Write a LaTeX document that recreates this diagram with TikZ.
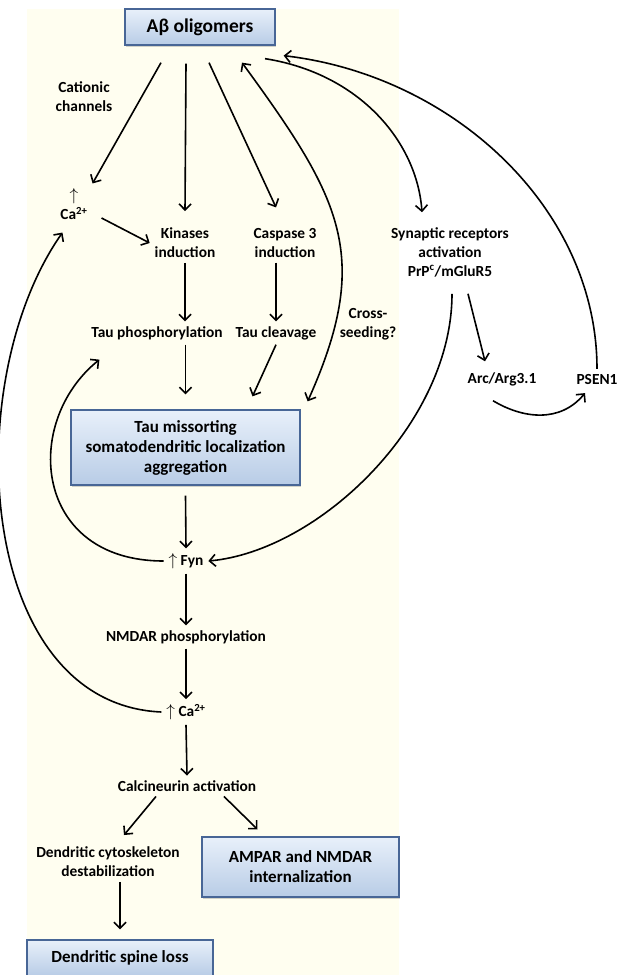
\documentclass[tikz,border=0pt]{standalone}
\usepackage{fontspec}
\setmainfont{Carlito}
\usetikzlibrary{positioning,arrows.meta,shadows}
\usepackage{xcolor}
\definecolor{cream}{RGB}{255,254,240}
\definecolor{boxedge}{RGB}{72,102,150}
\definecolor{boxtop}{RGB}{232,240,250}
\definecolor{boxbot}{RGB}{184,204,230}
\newcommand{\upar}{{\fontsize{18}{19}\selectfont$\uparrow$}}

\begin{document}
\begin{tikzpicture}[x=1pt, y=-1pt,
	lbl/.style={font=\fontsize{15.4}{19}\selectfont\bfseries, align=center, inner sep=1pt, outer sep=4pt},
	bluebox/.style={draw=boxedge, line width=1.3pt, top color=boxtop, bottom color=boxbot, font=\fontsize{17}{20}\selectfont\bfseries, align=center, inner sep=2pt, drop shadow={shadow xshift=1pt, shadow yshift=-1.5pt, opacity=0.35}},
	arr/.style={-{Straight Barb[length=6pt,width=12pt]}, line width=1.6pt}]
	\useasboundingbox (0,0) rectangle (618,975);
	\fill[cream] (27,9) rectangle (399,975);
	
	% Boxes
	\node[bluebox, minimum width=150pt, minimum height=36pt, font=\fontsize{19.5}{22}\selectfont\bfseries] (abeta) at (200,27) {Aβ oligomers};
	\node[bluebox, minimum width=229pt, minimum height=75pt] (taubox) at (185.5,447.5) {Tau missorting\\somatodendritic localization\\aggregation};
	\node[bluebox, minimum width=197pt, minimum height=60pt] (ampar) at (300.5,867) {AMPAR and NMDAR\\internalization};
	\node[bluebox, minimum width=186pt, minimum height=36pt] (spine) at (120,958) {Dendritic spine loss};
	
	% Text nodes
	\node[lbl] (cationic) at (84,97) {Cationic\\channels};
	\node[lbl] (catop) at (74,204) {\upar\\Ca\textsuperscript{2+}};
	\node[lbl] (kinases) at (185,243) {Kinases\\induction};
	\node[lbl] (caspase) at (285,243) {Caspase 3\\induction};
	\node[lbl] (taup) at (157,333) {Tau phosphorylation};
	\node[lbl] (tauc) at (276,333) {Tau cleavage};
	\node[lbl] (cross) at (368,324) {Cross-\\seeding?};
	\node[lbl] (synaptic) at (450,252) {Synaptic receptors\\activation\\PrP\textsuperscript{c}/mGluR5};
	\node[lbl] (arc) at (502,379) {Arc/Arg3.1};
	\node[lbl] (psen) at (597,379) {PSEN1};
	\node[lbl] (fyn) at (186,561) {\upar\ Fyn};
	\node[lbl] (nmdar) at (186,637) {NMDAR phosphorylation};
	\node[lbl] (calow) at (186,712) {\upar\ Ca\textsuperscript{2+}};
	\node[lbl] (calcin) at (187,786) {Calcineurin activation};
	\node[lbl] (cyto) at (108,862) {Dendritic cytoskeleton\\destabilization};
	
	% Arrows from the oligomers
	\draw[arr] ([xshift=-39pt,yshift=-17pt]abeta.south) -- (catop.north east);
	\draw[arr] ([xshift=-14pt,yshift=-18pt]abeta.south) -- ([yshift=12pt]kinases.north);
	\draw[arr] ([xshift=9pt,yshift=-17pt]abeta.south) -- ([xshift=-9pt,yshift=16pt]caspase.north);
	\draw[{Straight Barb[length=6pt,width=12pt]}-{Straight Barb[length=6pt,width=12pt]}, line width=1.6pt] ([xshift=42pt,yshift=-17pt]abeta.south) .. controls +(100,137) and +(65,-145) .. ([xshift=7pt,yshift=8pt]taubox.north east);
	\draw[arr] ([xshift=65pt,yshift=-13pt]abeta.south) .. controls +(95,15) and +(-5,-70) .. ([xshift=-28pt,yshift=10pt]synaptic.north);
	\draw[arr] (psen.north) .. controls +(0,-160) and +(170,20) .. ([xshift=8pt,yshift=-10pt]abeta.south east);
	
	% Synaptic branch
	\draw[arr] ([xshift=18pt,yshift=-12pt]synaptic.south) -- ([xshift=-17pt,yshift=6pt]arc.north);
	\draw[arr] ([xshift=-9pt,yshift=-10pt]arc.south) .. controls +(30,18) and +(-25,30) .. ([xshift=-12pt,yshift=-4pt]psen.south);
	\draw[arr] ([xshift=2pt,yshift=-12pt]synaptic.south) .. controls +(0,130) and +(110,-10) .. (fyn.east);
	
	% Tau column
	\draw[arr] ([xshift=9pt,yshift=-14pt]catop.east) -- (kinases.west);
	\draw[arr] (kinases.south) -- (kinases.south |- taup.north);
	\draw[arr] (tauc.north |- caspase.south) -- (tauc.north);
	\draw[arr] (taubox.north |- taup.south) -- ([yshift=15pt]taubox.north);
	\draw[arr] (tauc.south) -- ([xshift=67pt,yshift=13pt]taubox.north);
	\draw[arr] ([yshift=-10pt]taubox.south) -- (fyn.north);
	\draw[arr] (fyn.west) .. controls +(-130,0) and +(-78,63) .. ([xshift=13pt,yshift=-15pt]taup.south west);
	\draw[arr] (fyn.south) -- (nmdar.north);
	\draw[arr] (nmdar.south) -- (calow.north);
	\draw[arr] (calow.west) .. controls +(-185,-8) and +(-105,150) .. ([xshift=7pt,yshift=-8pt]catop.south west);
	\draw[arr] (calow.south) -- (calcin.north);
	
	% Outcomes
	\draw[arr] ([xshift=-31pt]calcin.south) -- ([xshift=16pt,yshift=7pt]cyto.north);
	\draw[arr] ([xshift=37pt]calcin.south) -- ([xshift=-43pt,yshift=7pt]ampar.north);
	\draw[arr] (spine.north |- cyto.south) -- ([yshift=10pt]spine.north);
	
\end{tikzpicture}
\end{document}
